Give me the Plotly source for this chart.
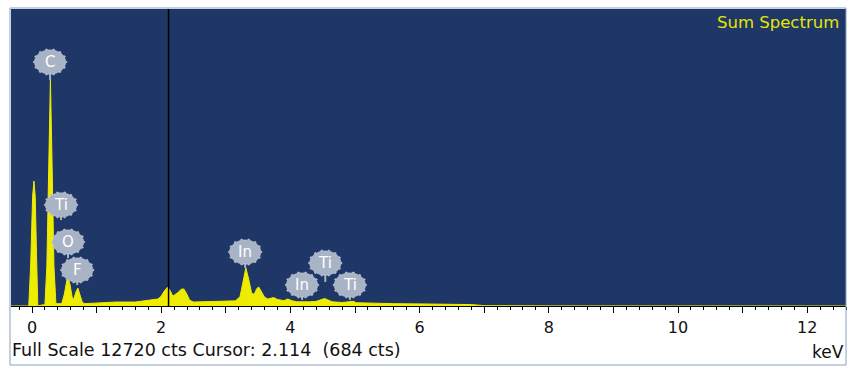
import numpy as np
import plotly.graph_objects as go

# EDS sum spectrum: energy (keV) vs counts
energy_kev = [
    -0.33, -0.05, -0.02, 0.01, 0.03, 0.05, 0.07, 0.09, 0.15, 0.20,
    0.23, 0.26, 0.285, 0.31, 0.34, 0.37, 0.42, 0.46, 0.50, 0.54,
    0.56, 0.59, 0.62, 0.64, 0.68, 0.71, 0.74, 0.78, 0.82, 0.90,
    1.05, 1.30, 1.60, 1.80, 1.95, 2.00, 2.05, 2.10, 2.14, 2.18,
    2.21, 2.26, 2.31, 2.35, 2.39, 2.44, 2.50, 2.80, 3.10, 3.15,
    3.22, 3.27, 3.31, 3.35, 3.40, 3.44, 3.48, 3.51, 3.55, 3.60,
    3.65, 3.70, 3.74, 3.80, 3.90, 3.96, 4.02, 4.10, 4.20, 4.30,
    4.40, 4.48, 4.53, 4.58, 4.65, 4.80, 4.92, 4.97, 5.02, 5.20,
    5.60, 6.00, 6.50, 6.80, 7.00, 8.00, 12.66,
]
counts = [
    0, 0, 1800, 4700, 5350, 4700, 2200, 0, 40, 50,
    1700, 6200, 9700, 6200, 1700, 100, 90, 100, 500, 1100,
    1200, 900, 400, 250, 600, 770, 500, 150, 100, 110,
    130, 170, 170, 260, 300, 420, 650, 810, 650, 420,
    480, 580, 720, 730, 550, 250, 170, 180, 220, 220,
    400, 1100, 1630, 1200, 550, 500, 750, 810, 600, 380,
    300, 330, 360, 280, 230, 300, 230, 180, 170, 180,
    200, 280, 320, 260, 180, 150, 180, 200, 140, 120,
    100, 90, 80, 60, 15, 5, 0,
]

full_scale_cts = 12720
cursor_kev = 2.114
cursor_cts = 684

# Element markers: label, energy, label height (cts), stem end (cts)
peak_labels = ["C", "Ti", "O", "F", "In", "In", "Ti", "Ti"]
peak_kev = [0.28, 0.45, 0.557, 0.70, 3.30, 4.18, 4.54, 4.92]
label_cts = [10450, 4330, 2740, 1540, 2310, 900, 1840, 900]
stem_cts = [9680, 3680, 2050, 900, 1630, 260, 1030, 260]

x_ticks = list(range(0, 13))
x_ticktext = [str(v) if v % 2 == 0 else "" for v in x_ticks]

NAVY = "#1f3766"
YELLOW = "#eeec00"
BADGE = "#a9b3c6"
FONT = "DejaVu Sans, Liberation Sans"

fig = go.Figure()
fig.add_trace(go.Scatter(
    x=energy_kev, y=counts, mode="lines",
    line=dict(color=YELLOW, width=1),
    fill="tozeroy", fillcolor=YELLOW,
    hoverinfo="skip", showlegend=False,
))

shapes = []
# cursor line
shapes.append(dict(type="line", xref="x", yref="paper", x0=cursor_kev, x1=cursor_kev,
                   y0=0, y1=1, line=dict(color="#000000", width=1.5)))


def gear_path(rx=15.5, ry=12.0, teeth=14, n=168):
    t = np.linspace(0, 2 * np.pi, n, endpoint=False)
    bump = np.where(np.cos(teeth * t) > 0.55, 1.2, 0.0)
    xs = (rx + bump) * np.cos(t)
    ys = (ry + bump) * np.sin(t)
    pts = [f"{'M' if i == 0 else 'L'}{x:.2f},{y:.2f}" for i, (x, y) in enumerate(zip(xs, ys))]
    return " ".join(pts) + " Z"


gp = gear_path()
annotations = []
for lab, xk, yl, ys in zip(peak_labels, peak_kev, label_cts, stem_cts):
    shapes.append(dict(type="line", xref="x", yref="y", x0=xk, x1=xk, y0=yl, y1=ys,
                       line=dict(color=BADGE, width=2)))
    shapes.append(dict(type="path", xref="x", yref="y", xsizemode="pixel", ysizemode="pixel",
                       xanchor=xk, yanchor=yl, path=gp,
                       fillcolor=BADGE, line=dict(color="#c3cad8", width=0.8)))
    annotations.append(dict(x=xk, y=yl, xref="x", yref="y", text=lab, showarrow=False,
                            font=dict(family=FONT, size=15, color="#ffffff")))

# outer frame
shapes.append(dict(type="rect", xref="paper", yref="paper", x0=-0.0012, x1=1.0,
                   y0=-0.1987, y1=1.0034, line=dict(color="#8aa0c2", width=1), layer="above"))

annotations.append(dict(xref="paper", yref="paper", x=0.994, y=0.955, xanchor="right",
                        yanchor="middle", text="Sum Spectrum", showarrow=False,
                        font=dict(family=FONT, size=16.5, color="#e6e600")))
annotations.append(dict(xref="paper", yref="paper", x=-0.0012, y=-0.149, xanchor="left",
                        yanchor="middle",
                        text=f"Full Scale {full_scale_cts} cts Cursor: {cursor_kev:.3f}&nbsp;&nbsp;({cursor_cts} cts)",
                        showarrow=False,
                        font=dict(family=FONT, size=17.5, color="#111111")))
annotations.append(dict(xref="paper", yref="paper", x=1.0, y=-0.155, xanchor="right",
                        yanchor="middle", text="keV", showarrow=False,
                        font=dict(family=FONT, size=17, color="#111111")))

fig.update_layout(
    width=849, height=369,
    margin=dict(l=11, r=3, t=9, b=63),
    paper_bgcolor="#ffffff", plot_bgcolor=NAVY,
    shapes=shapes, annotations=annotations,
    xaxis=dict(range=[-0.325, 12.6], tickvals=x_ticks, ticktext=x_ticktext,
               ticks="outside", ticklen=6, tickwidth=1, tickcolor="#000000",
               minor=dict(dtick=0.2, tick0=0, ticks="outside", ticklen=3, tickcolor="#000000"),
               showgrid=False, zeroline=False, showline=True, linecolor="#000000", linewidth=1,
               ticklabelstandoff=1,
               tickfont=dict(family=FONT, size=16, color="#111111")),
    yaxis=dict(range=[0, full_scale_cts], showticklabels=False, showgrid=False,
               zeroline=False, ticks=""),
)

fig.write_html("out.html")
